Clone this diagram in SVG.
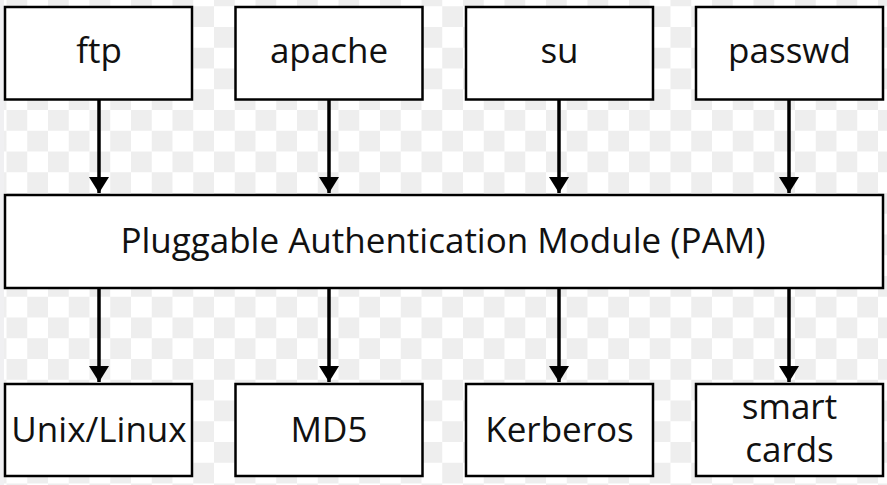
<svg xmlns="http://www.w3.org/2000/svg" width="887" height="485" viewBox="0 0 887 485">
<style>
.box{fill:#ffffff;stroke:#000000;stroke-width:2.5}
.lbl{font-family:"Open Sans","Noto Sans","Liberation Sans",sans-serif;font-size:35px;fill:#111111;text-anchor:middle}
.conn{stroke:#000000;stroke-width:3.5;fill:none}
</style>
<defs>
<pattern id="checker" patternUnits="userSpaceOnUse" x="6.5" y="6.25" width="41.5" height="41.5">
<rect x="0" y="0" width="41.5" height="41.5" fill="#ffffff"/>
<rect x="20.75" y="0" width="20.75" height="20.75" fill="#eeeeee"/>
<rect x="0" y="20.75" width="20.75" height="20.75" fill="#eeeeee"/>
</pattern>
<marker id="arrow" markerUnits="userSpaceOnUse" markerWidth="16" markerHeight="20" refX="16" refY="10" orient="auto" viewBox="0 0 16 20">
<path d="M0,0 L16,10 L0,20 Z" fill="#000000"/>
</marker>
</defs>
<rect x="0" y="0" width="887" height="485" fill="url(#checker)"/>
<rect x="0" y="0" width="4" height="485" fill="#f0f0f2"/>
<g id="connectors">
<line class="conn" x1="99" y1="100" x2="99" y2="193" marker-end="url(#arrow)"/>
<line class="conn" x1="329" y1="100" x2="329" y2="193" marker-end="url(#arrow)"/>
<line class="conn" x1="559" y1="100" x2="559" y2="193" marker-end="url(#arrow)"/>
<line class="conn" x1="789" y1="100" x2="789" y2="193" marker-end="url(#arrow)"/>
<line class="conn" x1="99" y1="289" x2="99" y2="382" marker-end="url(#arrow)"/>
<line class="conn" x1="329" y1="289" x2="329" y2="382" marker-end="url(#arrow)"/>
<line class="conn" x1="559" y1="289" x2="559" y2="382" marker-end="url(#arrow)"/>
<line class="conn" x1="789" y1="289" x2="789" y2="382" marker-end="url(#arrow)"/>
</g>
<g id="ftp"><rect class="box" x="5" y="7" width="187" height="92.5"/><text class="lbl" x="99" y="63">ftp</text></g>
<g id="apache"><rect class="box" x="235.5" y="7" width="187" height="92.5"/><text class="lbl" x="329" y="63">apache</text></g>
<g id="su"><rect class="box" x="466" y="7" width="187" height="92.5"/><text class="lbl" x="559.5" y="63">su</text></g>
<g id="passwd"><rect class="box" x="696" y="7" width="187" height="92.5"/><text class="lbl" x="789.5" y="63">passwd</text></g>
<g id="pam"><rect class="box" x="5" y="195" width="878" height="93"/><text class="lbl" x="443" y="253">Pluggable Authentication Module (PAM)</text></g>
<g id="unix"><rect class="box" x="5" y="384" width="187" height="92"/><text class="lbl" x="99" y="442">Unix/Linux</text></g>
<g id="md5"><rect class="box" x="235.5" y="384" width="187" height="92"/><text class="lbl" x="329" y="442">MD5</text></g>
<g id="kerberos"><rect class="box" x="466" y="384" width="187" height="92"/><text class="lbl" x="559.5" y="442">Kerberos</text></g>
<g id="smartcards"><rect class="box" x="696" y="384" width="187" height="92"/><text class="lbl" x="789.5" y="419">smart</text><text class="lbl" x="789.5" y="462">cards</text></g>
</svg>
